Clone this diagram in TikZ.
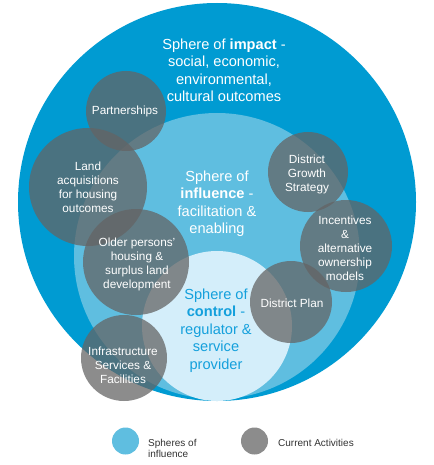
\documentclass[tikz,border=0pt]{standalone}
\usepackage{fontspec}
\setmainfont{Liberation Sans}
\definecolor{outerblue}{RGB}{0,155,210}
\definecolor{midblue}{RGB}{95,190,224}
\definecolor{innerblue}{RGB}{212,238,250}
\definecolor{ctrlblue}{RGB}{20,160,220}
\definecolor{actgray}{RGB}{100,100,100}
\definecolor{legtextc}{RGB}{50,50,50}
\begin{document}
\begin{tikzpicture}[x=1pt,y=-1pt,
  sphere/.style={circle, inner sep=0pt, outer sep=0pt},
  act/.style={circle, inner sep=0pt, outer sep=0pt, fill=actgray, fill opacity=0.74},
  acttext/.style={text=white, align=center, font=\fontsize{11.8}{14}\selectfont, inner sep=0pt},
  bigtext/.style={align=center, font=\fontsize{14.6}{17.5}\selectfont, inner sep=0pt},
  legtext/.style={text=legtextc, align=left, font=\fontsize{10}{11.5}\selectfont, inner sep=0pt, anchor=west}]
\useasboundingbox (0,0) rectangle (433,465);
% spheres
\node[sphere, fill=outerblue, minimum size=398pt] (impact) at (217,202) {};
\node[sphere, fill=midblue, minimum size=286pt] (influence) at (217,256) {};
\node[sphere, fill=innerblue, minimum size=150pt] (control) at (217,326) {};
% activities
\node[act, minimum size=80pt] (partner) at (126,111) {};
\node[act, minimum size=118pt] (land) at (88,187) {};
\node[act, minimum size=106pt] (older) at (136,262) {};
\node[act, minimum size=86pt] (infra) at (124,358) {};
\node[act, minimum size=80pt] (dgs) at (308,172) {};
\node[act, minimum size=92pt] (incent) at (346,246) {};
\node[act, minimum size=82pt] (dplan) at (291,302) {};
% sphere texts
\node[bigtext, text=white] (impactlbl) at (224,70.5) {Sphere of \textbf{impact} -\\social, economic,\\environmental,\\cultural outcomes};
\node[bigtext, text=white] (influencelbl) at (217,203.5) {Sphere of\\\textbf{influence} -\\facilitation \&\\enabling};
\node[bigtext, text=ctrlblue] (controllbl) at (216,330.5) {Sphere of\\\textbf{control} -\\regulator \&\\service\\provider};
% activity texts
\node[acttext] (partnerlbl) at (125,111) {Partnerships};
\node[acttext] (landlbl) at (88,187.5) {Land\\acquisitions\\for housing\\outcomes};
\node[acttext] (olderlbl) at (137,264) {Older persons’\\housing \&\\surplus land\\development};
\node[acttext] (infralbl) at (123,365) {Infrastructure\\Services \&\\Facilities};
\node[acttext] (dgslbl) at (307,174) {District\\Growth\\Strategy};
\node[acttext] (incentlbl) at (345,248.5) {Incentives\\\&\\alternative\\ownership\\models};
\node[acttext] (dplanlbl) at (292,303) {District Plan};
% legend
\node[sphere, fill=midblue, minimum size=27pt] (legsph) at (125.5,441) {};
\node[act, minimum size=27pt] (legact) at (254.5,441) {};
\node[legtext] (legsphlbl) at (148,448.5) {Spheres of\\influence};
\node[legtext] (legactlbl) at (278,443) {Current Activities};
\end{tikzpicture}
\end{document}
